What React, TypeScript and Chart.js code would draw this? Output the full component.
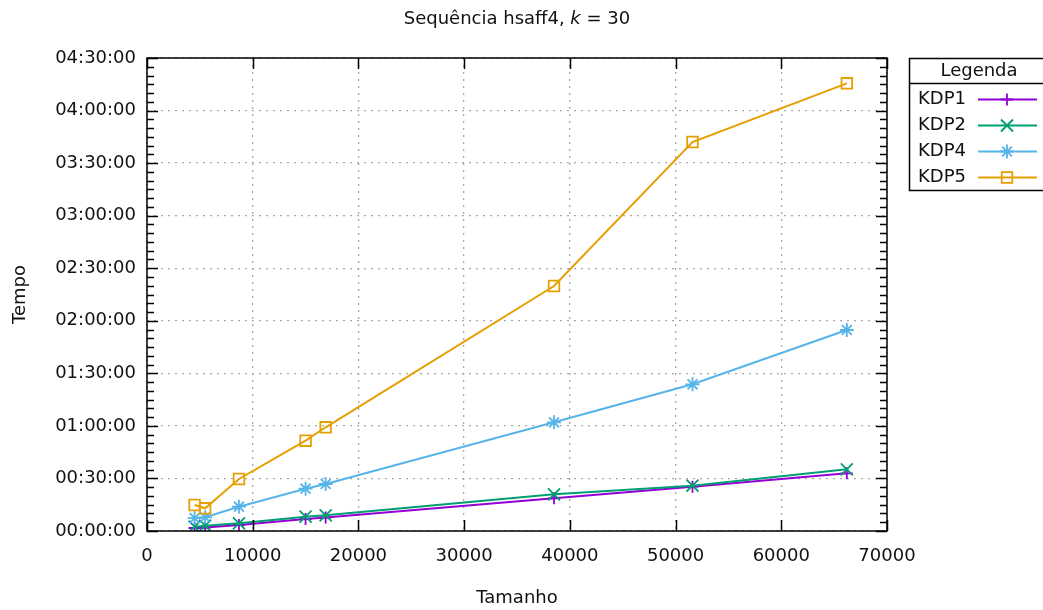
import React, { useEffect, useRef } from "react";
import { Chart, registerables } from "chart.js";

Chart.register(...registerables);

// Input sizes (x) and run times in seconds (y) for each variant
const tamanhos = [4500, 5500, 8700, 15000, 16900, 38500, 51600, 66200];
const kdp1 = [103, 120, 205, 411, 462, 1120, 1517, 1976];
const kdp2 = [147, 182, 264, 490, 538, 1257, 1551, 2113];
const kdp4 = [440, 470, 832, 1449, 1610, 3723, 5024, 6884];
const kdp5 = [890, 777, 1781, 3093, 3552, 8391, 13323, 15333];

const seriesNames = ["KDP1", "KDP2", "KDP4", "KDP5"];
const seriesValues = [kdp1, kdp2, kdp4, kdp5];
const seriesColors = ["#9400d3", "#009e73", "#56b4e9", "#e69f00"];
const seriesMarkers = ["cross", "crossRot", "star", "rect"] as const;
const markerRadius = [6, 8.5, 7, 7.5];

const xMin = 0;
const xMax = 70000;
const xStep = 10000;
const yMin = 0;
const yMax = 16200;
const yStep = 1800;
const yMinorStep = 300;

const FONT = "'DejaVu Sans', 'Verdana', sans-serif";
const TEXT = "#111";

function hms(sec: number): string {
  const h = Math.floor(sec / 3600);
  const m = Math.floor((sec % 3600) / 60);
  const s = Math.round(sec % 60);
  const p = (n: number) => String(n).padStart(2, "0");
  return `${p(h)}:${p(m)}:${p(s)}`;
}

function drawMarker(ctx: CanvasRenderingContext2D, style: string, x: number, y: number, r: number) {
  ctx.beginPath();
  if (style === "cross" || style === "star") {
    ctx.moveTo(x, y - r);
    ctx.lineTo(x, y + r);
    ctx.moveTo(x - r, y);
    ctx.lineTo(x + r, y);
  }
  if (style === "crossRot" || style === "star") {
    const d = r * Math.SQRT1_2;
    ctx.moveTo(x - d, y - d);
    ctx.lineTo(x + d, y + d);
    ctx.moveTo(x - d, y + d);
    ctx.lineTo(x + d, y - d);
  }
  if (style === "rect") {
    const s = r * Math.SQRT1_2;
    ctx.rect(x - s, y - s, 2 * s, 2 * s);
  }
  ctx.stroke();
}

// Frame, inward ticks, titles and legend box drawn on top of the plot
const decorations = {
  id: "decorations",
  afterDraw(chart: any) {
    const ctx: CanvasRenderingContext2D = chart.ctx;
    const { left, right, top, bottom } = chart.chartArea;
    const xs = chart.scales.x;
    const ys = chart.scales.y;
    ctx.save();

    // ticks on all four sides, pointing inward
    ctx.strokeStyle = "#000";
    ctx.lineWidth = 1.5;
    ctx.beginPath();
    for (let v = xMin; v <= xMax; v += xStep) {
      const px = Math.round(xs.getPixelForValue(v)) + 0.5;
      ctx.moveTo(px, bottom);
      ctx.lineTo(px, bottom - 11);
      ctx.moveTo(px, top);
      ctx.lineTo(px, top + 11);
    }
    for (let v = yMin; v <= yMax; v += yMinorStep) {
      const py = Math.round(ys.getPixelForValue(v)) + 0.5;
      const len = v % yStep === 0 ? 11 : 7;
      ctx.moveTo(left, py);
      ctx.lineTo(left + len, py);
      ctx.moveTo(right, py);
      ctx.lineTo(right - len, py);
    }
    ctx.stroke();

    // frame
    ctx.lineWidth = 1.5;
    ctx.strokeRect(left, top, right - left, bottom - top);

    // title with italic k
    ctx.fillStyle = TEXT;
    ctx.textBaseline = "middle";
    const partA = "Sequência hsaff4, ";
    const partB = "k";
    const partC = " = 30";
    const tSize = 18;
    ctx.font = `${tSize}px ${FONT}`;
    const wA = ctx.measureText(partA).width;
    const wC = ctx.measureText(partC).width;
    ctx.font = `italic ${tSize}px ${FONT}`;
    const wB = ctx.measureText(partB).width;
    const cx = (left + right) / 2;
    let tx = cx - (wA + wB + wC) / 2;
    const ty = 19;
    ctx.textAlign = "left";
    ctx.font = `${tSize}px ${FONT}`;
    ctx.fillText(partA, tx, ty);
    tx += wA;
    ctx.font = `italic ${tSize}px ${FONT}`;
    ctx.fillText(partB, tx, ty);
    tx += wB;
    ctx.font = `${tSize}px ${FONT}`;
    ctx.fillText(partC, tx, ty);

    // axis titles
    ctx.font = `18px ${FONT}`;
    ctx.textAlign = "center";
    ctx.fillText("Tamanho", cx, 598);
    ctx.save();
    ctx.translate(20, (top + bottom) / 2);
    ctx.rotate(-Math.PI / 2);
    ctx.fillText("Tempo", 0, 0);
    ctx.restore();

    // legend
    const lx = 909.5;
    const ly = 58.5;
    ctx.strokeStyle = "#000";
    ctx.lineWidth = 1.5;
    ctx.strokeRect(lx, ly, 150, 132);
    ctx.beginPath();
    ctx.moveTo(lx, 83.5);
    ctx.lineTo(lx + 150, 83.5);
    ctx.stroke();
    ctx.fillStyle = TEXT;
    ctx.textAlign = "center";
    ctx.fillText("Legenda", 979, 71);
    seriesNames.forEach((name, i) => {
      const ey = 99 + i * 26;
      ctx.fillStyle = TEXT;
      ctx.textAlign = "left";
      ctx.font = `18px ${FONT}`;
      ctx.fillText(name, 918, ey);
      ctx.strokeStyle = seriesColors[i];
      ctx.lineWidth = 2;
      ctx.beginPath();
      ctx.moveTo(978, ey + 0.5);
      ctx.lineTo(1037, ey + 0.5);
      ctx.stroke();
      ctx.lineWidth = 1.8;
      drawMarker(ctx, seriesMarkers[i], 1007, ey + 0.5, markerRadius[i]);
    });

    ctx.restore();
  },
};

export default function App() {
  const canvasRef = useRef<HTMLCanvasElement | null>(null);

  useEffect(() => {
    const canvas = canvasRef.current;
    if (!canvas) return;

    const datasets = seriesNames.map((name, i) => ({
      label: name,
      data: tamanhos.map((x, j) => ({ x, y: seriesValues[i][j] })),
      borderColor: seriesColors[i],
      borderWidth: 2,
      pointStyle: seriesMarkers[i],
      pointRadius: markerRadius[i],
      pointBorderColor: seriesColors[i],
      pointBackgroundColor: "rgba(0,0,0,0)",
      pointBorderWidth: 1.8,
      fill: false,
      tension: 0,
      order: seriesNames.length - i,
    }));

    const chart = new Chart(canvas, {
      type: "line",
      data: { datasets },
      plugins: [decorations],
      options: {
        animation: false,
        responsive: false,
        events: [],
        layout: { padding: { top: 58, right: 156, left: 0, bottom: 0 } },
        plugins: {
          legend: { display: false },
          title: { display: false },
          tooltip: { enabled: false },
        },
        scales: {
          x: {
            type: "linear",
            min: xMin,
            max: xMax,
            afterFit: (scale: any) => {
              scale.height = 79;
            },
            ticks: {
              stepSize: xStep,
              padding: 15,
              maxRotation: 0,
              color: TEXT,
              font: { family: FONT, size: 18 },
              callback: (v: any) => String(v),
            },
            grid: {
              color: "#a8a8a8",
              lineWidth: 1.3,
              drawTicks: false,
            },
            border: { display: false, dash: [2, 5] },
          },
          y: {
            type: "linear",
            min: yMin,
            max: yMax,
            afterFit: (scale: any) => {
              scale.width = 147;
            },
            ticks: {
              stepSize: yStep,
              padding: 11,
              color: TEXT,
              font: { family: FONT, size: 18 },
              callback: (v: any) => hms(Number(v)),
            },
            grid: {
              color: "#a8a8a8",
              lineWidth: 1.3,
              drawTicks: false,
            },
            border: { display: false, dash: [2, 5] },
          },
        },
      },
    });

    return () => chart.destroy();
  }, []);

  return (
    <div style={{ position: "fixed", left: 0, top: 0, width: 1043, height: 610, background: "#fff" }}>
      <canvas ref={canvasRef} width={1043} height={610} style={{ display: "block" }} />
    </div>
  );
}
